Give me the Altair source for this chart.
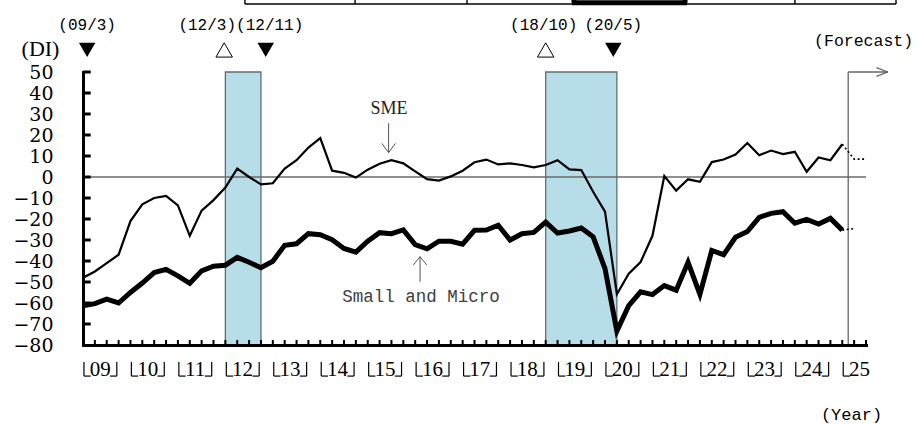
import altair as alt
import pandas as pd

# Business conditions DI, quarterly from 2009 Q1 (quarter index 0) to 2025 Q1 (index 64)
sme = [-48, -45, -41, -37, -21, -13, -10, -9, -13.5, -28, -16, -11, -5, 4, 0, -3.5,
       -3, 4, 8, 14, 18.5, 3, 2, -0.3, 3.5, 6.3, 8, 6.5, 2.7, -1, -1.7, 0.3,
       3, 7, 8.3, 6, 6.5, 5.7, 4.6, 5.7, 8, 3.6, 3.3, -7, -16.5, -55.8, -46, -40.5,
       -28, 0.5, -6.5, -1.1, -2.3, 7.1, 8.3, 10.7, 16.2, 10.4, 12.6, 10.9,
       12, 2.5, 9.3, 8, 15.6]
small_micro = [-61.3, -60.3, -58.2, -60, -55, -50.5, -45.5, -44, -47.1, -50.6, -44.7, -42.5, -42, -38.3, -40.6, -43.2,
               -40.1, -32.5, -31.8, -27, -27.5, -29.9, -34, -35.8, -30.6, -26.5, -27, -25.2, -32.2, -34.2, -30.6, -30.6,
               -32, -25.4, -25.3, -23, -30, -27, -26.4, -21.5, -26.7, -25.7, -24.3, -28.5, -43.6, -73.4, -61.3, -54.7,
               -56, -51.7, -53.9, -40.6, -55.9, -35, -37, -28.7, -26, -19.2, -17.3, -16.5,
               -22, -20.2, -22.4, -19.7, -25.3]

# Forecast segments start from the last actual quarter
sme_forecast = [15.6, 8.5, 8.5]
small_micro_forecast = [-25.3, -24.6]

years = ["09", "10", "11", "12", "13", "14", "15", "16", "17",
         "18", "19", "20", "21", "22", "23", "24", "25"]

# Recession periods (quarter index)
recession_start = [12, 39]
recession_end = [15, 45]

# Business-cycle turning points
turn_labels = ["(09/3)", "(12/3)", "(12/11)", "(18/10)", "(20/5)"]
turn_kind = ["trough", "peak", "trough", "peak", "trough"]
turn_q = [0.35, 11.9, 15.4, 39.0, 44.7]

y_ticks = list(range(-80, 51, 10))

# ---------------------------------------------------------------------------
N = len(sme)
Q_MAX = 66
forecast_edge = N - 0.5

xs = alt.Scale(domain=[0, Q_MAX], nice=False, zero=False)
ys = alt.Scale(domain=[-80, 50], nice=False, zero=False)

x_axis = alt.Axis(title="(Year)", titleX=768, titleY=69, titleAlign="center",
                  titleBaseline="middle", titleFont="Liberation Mono", titleFontSize=17,
                  titleFontWeight="normal", titleColor="black",
                  labels=False, ticks=False, grid=False,
                  domainColor="black", domainWidth=3, domainCap="square", zindex=1)
y_axis = alt.Axis(values=y_ticks, title="(DI)", titleAngle=0, titleX=-43, titleY=-24,
                  titleAlign="center", titleBaseline="middle",
                  titleFont="Liberation Serif", titleFontSize=22, titleFontWeight="normal",
                  titleColor="black",
                  labelFont="DejaVu Serif", labelFontSize=19, labelColor="black",
                  labelPadding=30, labelOverlap=False, ticks=False, grid=False,
                  domainColor="black", domainWidth=3, domainCap="square", zindex=1)


def X(f):
    return alt.X(f, type="quantitative", scale=xs, axis=x_axis)


def Y(f):
    return alt.Y(f, type="quantitative", scale=ys, axis=y_axis)


def segments(rows, color="black", width=1.0, dash=None):
    df = pd.DataFrame(rows, columns=["x", "y", "x2", "y2"])
    kw = dict(color=color, strokeWidth=width)
    if dash:
        kw["strokeDash"] = dash
    return alt.Chart(df).mark_rule(**kw).encode(x=X("x"), y=Y("y"), x2="x2", y2="y2")


def label(q, v, text, font, size, color="black", dx=0):
    df = pd.DataFrame({"q": [q], "v": [v], "t": [text]})
    return alt.Chart(df).mark_text(font=font, fontSize=size, color=color, dx=dx,
                                   align="center", baseline="middle").encode(
        x=X("q"), y=Y("v"), text="t:N")


layers = []

# Recession shading
shade_df = pd.DataFrame({"s": recession_start, "e": recession_end})
layers.append(
    alt.Chart(shade_df).mark_rect(fill="#b7dde8", stroke="#5f6e75", strokeWidth=1.3).encode(
        x=X("s"), x2="e",
        y=alt.Y(datum=50, type="quantitative", scale=ys, axis=y_axis),
        y2=alt.Y2(datum=-80))
)

# Zero line
layers.append(segments([(0, 0, Q_MAX, 0)], color="#6b6b6b", width=1.4))

# Forecast frame with arrow
layers.append(segments([
    (forecast_edge, -80, forecast_edge, 50),
    (forecast_edge, 50, 67.85, 50),
    (66.88, 52.1, 67.85, 50),
    (66.88, 47.9, 67.85, 50),
], color="#666666", width=1.3))
layers.append(label(65.8, 64.8, "(Forecast)", "Liberation Mono", 16.5))

# Series
main = pd.DataFrame({"q": list(range(N)), "sme": sme, "sm": small_micro})
layers.append(alt.Chart(main).mark_line(color="black", strokeWidth=2.2).encode(x=X("q"), y=Y("sme")))
layers.append(alt.Chart(main).mark_line(color="black", strokeWidth=5).encode(x=X("q"), y=Y("sm")))

fc1 = pd.DataFrame({"q": [N - 1 + i for i in range(len(sme_forecast))], "v": sme_forecast})
fc2 = pd.DataFrame({"q": [N - 1 + i for i in range(len(small_micro_forecast))], "v": small_micro_forecast})
for fc in (fc1, fc2):
    layers.append(alt.Chart(fc).mark_line(color="black", strokeWidth=1.6, strokeDash=[2, 2.5]).encode(
        x=X("q"), y=Y("v")))

# Inward tick marks
ytick_df = pd.DataFrame({"v": y_ticks[1:], "a": 0.0, "b": 0.65})
layers.append(alt.Chart(ytick_df).mark_rule(color="black", strokeWidth=3).encode(
    x=X("a"), x2="b", y=Y("v")))
xtick_df = pd.DataFrame({"q": list(range(0, Q_MAX + 1)), "lo": -80.0, "hi": -77.6})
layers.append(alt.Chart(xtick_df).mark_rule(color="black", strokeWidth=2).encode(
    x=X("q"), y=Y("lo"), y2="hi"))

# Year labels with bracket marks spanning each year
yr_df = pd.DataFrame({"q": [4 * k + 1.45 for k in range(len(years))], "v": -91.9, "t": years})
layers.append(alt.Chart(yr_df).mark_text(font="Liberation Serif", fontSize=21, color="black",
                                         align="center", baseline="middle").encode(
    x=X("q"), y=Y("v"), text="t:N"))
brackets = []
for k in range(len(years)):
    s = 4 * k
    brackets += [(s + 0.08, -88.1, s + 0.08, -94.8), (s + 0.08, -94.8, s + 0.65, -94.8)]
    if k < len(years) - 1:
        brackets += [(s + 2.28, -94.8, s + 2.85, -94.8), (s + 2.85, -88.1, s + 2.85, -94.8)]
layers.append(segments(brackets, width=1.2))

# Turning-point markers and dates
turn_df = pd.DataFrame({"q": turn_q, "k": turn_kind, "t": turn_labels, "v": 60.5})
layers.append(alt.Chart(turn_df[turn_df.k == "trough"]).mark_point(
    shape="triangle-down", filled=True, color="black", size=272, opacity=1).encode(x=X("q"), y=Y("v")))
layers.append(alt.Chart(turn_df[turn_df.k == "peak"]).mark_point(
    shape="triangle-up", filled=True, fill="white", stroke="black", strokeWidth=1,
    size=272, opacity=1).encode(x=X("q"), y=Y("v")))
label_shift = {"(12/3)": -17, "(12/11)": 4, "(18/10)": -2}
for q, t in zip(turn_q, turn_labels):
    layers.append(label(q, 72.4, t, "Liberation Mono", 16, dx=label_shift.get(t, 0)))

# Series annotations with arrows
layers.append(label(25.79, 32.4, "SME", "Liberation Serif", 18, color="#222222"))
layers.append(segments([
    (25.76, 25.6, 25.76, 11.6),
    (25.19, 16.0, 25.76, 11.6),
    (26.33, 16.0, 25.76, 11.6),
], color="#555555", width=1))
layers.append(label(28.49, -57.1, "Small and Micro", "Liberation Mono", 17.5, color="#404040"))
layers.append(segments([
    (28.41, -37.95, 28.41, -49.9),
    (27.84, -41.9, 28.41, -37.95),
    (28.98, -41.9, 28.41, -37.95),
], color="#555555", width=1))

# Table edge above the chart
layers.append(segments([
    (13.65, 82.4, 68.53, 82.4),
    (13.65, 84.4, 13.65, 82.4),
    (22.93, 84.4, 22.93, 82.4),
    (32.37, 84.4, 32.37, 82.4),
    (60.01, 84.4, 60.01, 82.4),
    (68.53, 84.4, 68.53, 82.4),
], width=1.4))
layers.append(segments([
    (41.22, 83.0, 50.91, 83.0),
    (41.38, 84.4, 41.38, 83.0),
    (50.75, 84.4, 50.75, 83.0),
], width=5))

chart = alt.layer(*layers).properties(
    width=783, height=273,
    autosize=alt.AutoSizeParams(type="none"),
    padding={"left": 83, "top": 72, "right": 51, "bottom": 80},
).configure_view(stroke=None)

chart.save("out.html", embed_options={"renderer": "svg", "actions": False})
